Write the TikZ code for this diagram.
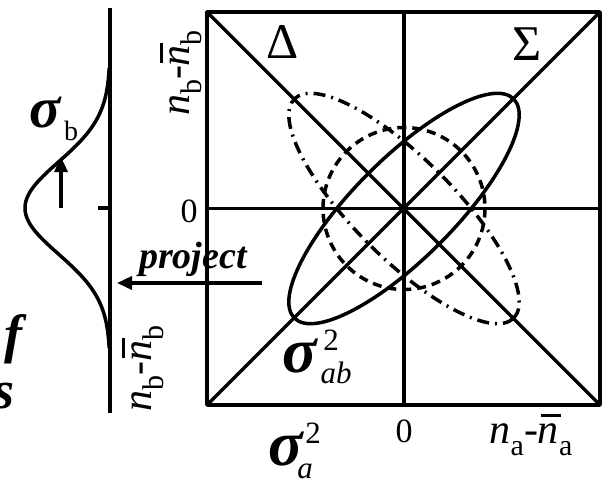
\documentclass[tikz,border=0pt]{standalone}
\usepackage{fontspec}
\setmainfont{Liberation Serif}
\usetikzlibrary{arrows.meta}
\newcommand\nbarx{\makebox[0pt][l]{\hspace{0.08em}\rule[0.62em]{0.46em}{0.07em}}\textit{n}}
\newcommand\subx[1]{\raisebox{-0.28em}{\fontsize{30}{30}\selectfont #1}}
\newcommand\nlab[1]{\textit{n}\subx{#1}-\nbarx\subx{#1}}
\begin{document}
\begin{tikzpicture}[x=1pt,y=-1pt,line width=3.5pt,line join=round,
  lbl/.style={inner sep=0pt,anchor=base},
  axlab/.style={inner sep=0pt,anchor=center,font=\fontsize{42}{42}\selectfont},
  zero/.style={lbl,font=\fontsize{34}{34}\selectfont},
  big/.style={lbl,font=\fontsize{64}{64}\selectfont\bfseries\itshape},
  scr/.style={lbl,font=\fontsize{31}{31}\selectfont},
  scri/.style={lbl,font=\fontsize{31}{31}\selectfont\itshape},
  greek/.style={lbl,font=\fontsize{50}{50}\selectfont},
  bi/.style={lbl,font=\fontsize{54}{54}\selectfont\bfseries\itshape},
  dashdot/.style={dash pattern=on 12pt off 6pt on 2pt off 6pt},
  dashd/.style={dash pattern=on 9pt off 6pt},
  tip/.style={-{Triangle[length=15pt,width=13pt]}}]
\clip (0,0) rectangle (610,480);
\fill[white] (0,0) rectangle (610,480);
% main square
\coordinate (tl) at (207,12);
\coordinate (tr) at (600,12);
\coordinate (bl) at (207,405);
\coordinate (br) at (600,405);
\coordinate (c) at (404,208.5);
\coordinate (top) at (404,12);
\coordinate (bot) at (404,405);
\coordinate (lft) at (207,208.5);
\coordinate (rgt) at (600,208.5);
\draw (tl) rectangle (br);
\draw (top) -- (bot);
\draw (lft) -- (rgt);
\draw (tl) -- (br);
\draw (bl) -- (tr);
% ellipses and circle
\draw[rotate around={45:(c)}] (c) ellipse [x radius=155, y radius=50];
\draw[dashdot,rotate around={-45:(c)}] (c) ellipse [x radius=155, y radius=50];
\draw[dashd] (c) circle [radius=81];
% left panel
\coordinate (la0) at (110,8);
\coordinate (la1) at (110,413);
\coordinate (tk0) at (98,208);
\coordinate (tk1) at (110,208);
\draw (la0) -- (la1);
\draw (tk0) -- (tk1);
\draw plot[domain=68:348,samples=120,variable=\t] ({110-85*exp(-0.5*((\t-208)/46)^2)},\t);
\coordinate (sb0) at (61,208);
\coordinate (sb1) at (61,157);
\draw[tip] (sb0) -- (sb1);
\coordinate (pj0) at (262,283);
\coordinate (pj1) at (117,283);
\draw[tip] (pj0) -- (pj1);
% labels
\node[lbl,font=\fontsize{38}{38}\selectfont\bfseries\itshape] (proj) at (193,268) {project};
\node[lbl,font=\fontsize{58}{58}\selectfont\bfseries\itshape] (sigb) at (45,127) {σ};
\node[lbl,font=\fontsize{28}{28}\selectfont] (sigbs) at (71,140) {b};
\node[greek] (del) at (283,58) {Δ};
\node[greek] (sig) at (527,60) {Σ};
\node[zero] (z1) at (189,222) {0};
\node[zero] (z2) at (404,442) {0};
\node[axlab] (na) at (531,435) {\nlab{a}};
\node[axlab,rotate=90] (nb1) at (181,73) {\nlab{b}};
\node[axlab,rotate=90] (nb2) at (143,368) {\nlab{b}};
\node[big] (sab) at (300,372) {σ};
\node[scr] (sab2) at (331,350) {2};
\node[scri] (sabs) at (336,383) {ab};
\node[big] (sa) at (286,465) {σ};
\node[scr] (sa2) at (313,443) {2};
\node[scri] (sas) at (305,478) {a};
\node[bi,anchor=base east] (ff) at (24,352) {f};
\node[bi,anchor=base east] (ss) at (16,408) {s};
\end{tikzpicture}
\end{document}
